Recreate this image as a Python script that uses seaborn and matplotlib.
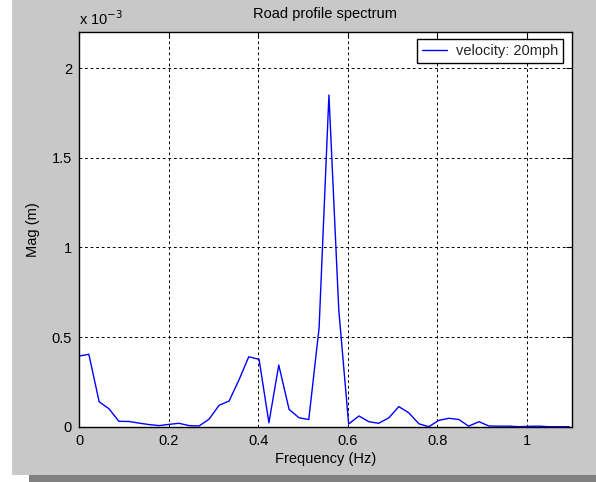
import matplotlib
matplotlib.use("Agg")
import matplotlib.pyplot as plt
from matplotlib.patches import Rectangle
import seaborn as sns
import pandas as pd

# road profile spectrum, 20 mph (magnitudes in units of 1e-3 m)
freq = [0.000, 0.022, 0.045, 0.067, 0.089, 0.112, 0.134, 0.156, 0.179, 0.201,
        0.223, 0.246, 0.268, 0.290, 0.313, 0.335, 0.357, 0.379, 0.402, 0.424,
        0.446, 0.469, 0.491, 0.513, 0.536, 0.558, 0.580, 0.602, 0.625, 0.647,
        0.669, 0.692, 0.714, 0.736, 0.759, 0.781, 0.803, 0.826, 0.848, 0.870,
        0.893, 0.915, 0.937, 0.960, 0.982, 1.004, 1.027, 1.049, 1.071, 1.094]
mag_e3 = [0.394, 0.404, 0.139, 0.100, 0.030, 0.029, 0.020, 0.012, 0.006, 0.013,
          0.019, 0.006, 0.004, 0.041, 0.120, 0.143, 0.260, 0.390, 0.376, 0.022,
          0.344, 0.097, 0.050, 0.040, 0.550, 1.850, 0.650, 0.015, 0.060, 0.028,
          0.019, 0.050, 0.112, 0.078, 0.016, 0.000, 0.035, 0.047, 0.040, 0.003,
          0.028, 0.004, 0.003, 0.003, 0.000, 0.002, 0.003, 0.000, 0.000, 0.000]
x_ticks = [0, 0.2, 0.4, 0.6, 0.8, 1.0]
x_labels = ["0", "0.2", "0.4", "0.6", "0.8", "1"]
y_ticks = [0, 0.5, 1.0, 1.5, 2.0]
y_labels = ["0", "0.5", "1", "1.5", "2"]

df = pd.DataFrame({"freq": freq, "mag": mag_e3})

sns.set_style("white")
plt.rcParams["font.family"] = ["Liberation Sans", "DejaVu Sans"]
plt.rcParams["lines.scale_dashes"] = False
FS = 10.5

W, H = 596, 482
fig = plt.figure(figsize=(W / 100, H / 100), dpi=100)
fig.patch.set_facecolor("#c8c8c8")
# white strip on the left and dark shadow bar at the bottom
fig.patches.append(Rectangle((0, 0), 12 / W, 1, transform=fig.transFigure,
                             facecolor="white", edgecolor="none", zorder=0))
fig.patches.append(Rectangle((0, 0), 1, 7 / H, transform=fig.transFigure,
                             facecolor="white", edgecolor="none", zorder=0))
fig.patches.append(Rectangle((29 / W, 0), 1, 7 / H, transform=fig.transFigure,
                             facecolor="#808080", edgecolor="none", zorder=0))

ax_w = 571.7 - 79
ax = fig.add_axes([79 / W, 1 - 426.7 / H, ax_w / W, (426.7 - 32.3) / H])
ax.set_facecolor("white")

sns.lineplot(data=df, x="freq", y="mag", ax=ax, color="#0000ff", linewidth=1.0,
             label="velocity: 20mph", estimator=None, sort=False)

ax.set_xlim(0, 1.1)
ax.set_ylim(0, 2.2)
ax.set_xticks(x_ticks)
ax.set_xticklabels(x_labels, fontsize=FS)
ax.set_yticks(y_ticks)
ax.set_yticklabels(y_labels, fontsize=FS)
ax.tick_params(direction="in", length=4, width=0.8, color="black",
               top=True, right=True, pad=5, labelcolor="black")
ax.grid(True, color="black", linestyle=(0, (2, 2)), linewidth=0.7)
for sp in ax.spines.values():
    sp.set_visible(True)
    sp.set_color("black")
    sp.set_linewidth(1.0)

ax.set_xlabel("Frequency (Hz)", fontsize=FS, labelpad=3, color="black")
ax.set_ylabel("Mag (m)", fontsize=FS, color="black")
ax.yaxis.set_label_coords((40 - 79) / ax_w, 0.5)

fig.text(325 / W, 1 - 14 / H, "Road profile spectrum", ha="center", va="center",
         fontsize=FS, color="black")
fig.text(79 / W, 1 - 19 / H, r"x 10$^{-3}$", ha="left", va="center",
         fontsize=FS, color="black")

leg = ax.legend(loc="upper right", bbox_to_anchor=(563 / W, 1 - 39 / H),
                bbox_transform=fig.transFigure, borderaxespad=0, fancybox=False,
                framealpha=1, edgecolor="black", fontsize=FS, handlelength=1.7,
                handletextpad=0.6, borderpad=0.35)
leg.get_frame().set_linewidth(1.0)

fig.savefig("out.png", dpi=100, facecolor=fig.get_facecolor())
